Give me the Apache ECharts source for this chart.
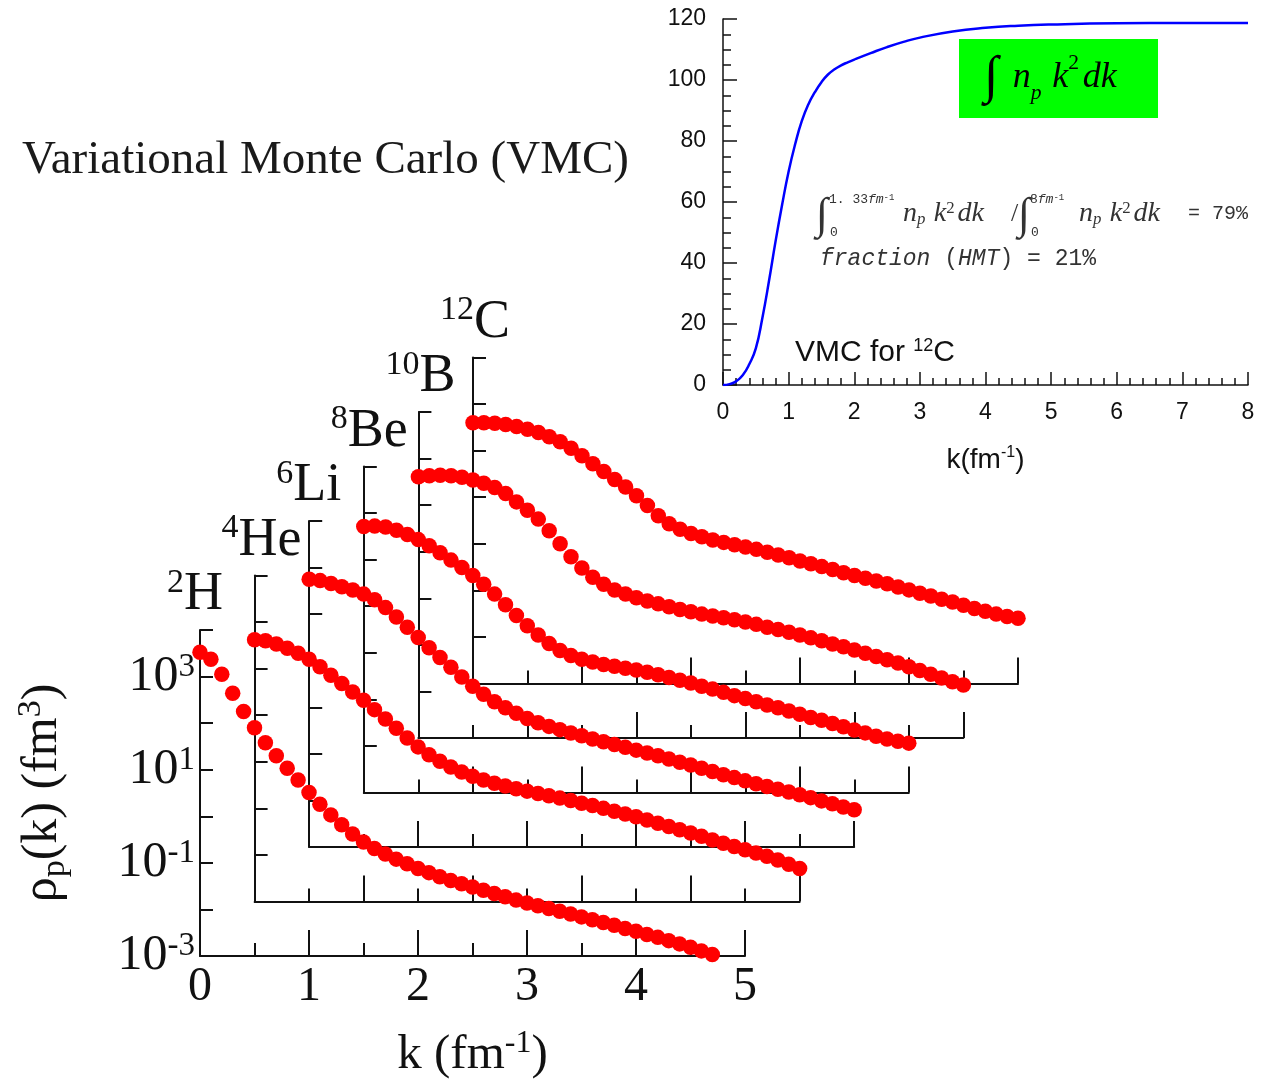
<!DOCTYPE html>
<html>
<head>
<meta charset="utf-8">
<script src="https://cdn.jsdelivr.net/npm/echarts@6/dist/echarts.min.js"></script>
<style>
  html, body { margin: 0; padding: 0; background: #fff; }
  #chart { width: 1269px; height: 1081px; }
</style>
</head>
<body>
<div id="chart"></div>
<script>
// Momentum grid (fm^-1) shared by all VMC proton momentum distributions
const kValues = [0, 0.1, 0.2, 0.3, 0.4, 0.5, 0.6, 0.7, 0.8, 0.9,
  1.0, 1.1, 1.2, 1.3, 1.4, 1.5, 1.6, 1.7, 1.8, 1.9,
  2.0, 2.1, 2.2, 2.3, 2.4, 2.5, 2.6, 2.7, 2.8, 2.9,
  3.0, 3.1, 3.2, 3.3, 3.4, 3.5, 3.6, 3.7, 3.8, 3.9,
  4.0, 4.1, 4.2, 4.3, 4.4, 4.5, 4.6, 4.7, 4.8, 4.9, 5.0];

// log10 of rho_p(k) in fm^3, one array per nucleus
const logRhoH2 = [3.52, 3.37, 3.05, 2.64, 2.25, 1.90, 1.58, 1.30, 1.03, 0.78,
  0.51, 0.26, 0.03, -0.18, -0.38, -0.55, -0.69, -0.81, -0.92, -1.02,
  -1.12, -1.21, -1.30, -1.38, -1.45, -1.52, -1.59, -1.66, -1.73, -1.80,
  -1.86, -1.92, -1.98, -2.04, -2.10, -2.16, -2.22, -2.28, -2.34, -2.41,
  -2.47, -2.54, -2.60, -2.67, -2.74, -2.81, -2.89, -2.97];
const logRhoHe4 = [2.62, 2.60, 2.53, 2.44, 2.33, 2.20, 2.04, 1.86, 1.68, 1.50,
  1.32, 1.12, 0.92, 0.72, 0.51, 0.32, 0.15, 0.01, -0.11, -0.22,
  -0.31, -0.39, -0.46, -0.52, -0.58, -0.63, -0.68, -0.73, -0.78, -0.83,
  -0.89, -0.94, -1.00, -1.06, -1.12, -1.18, -1.25, -1.32, -1.39, -1.46,
  -1.53, -1.60, -1.68, -1.75, -1.82, -1.89, -1.96, -2.03, -2.11, -2.20, -2.29];
const logRhoLi6 = [2.75, 2.72, 2.66, 2.59, 2.52, 2.43, 2.31, 2.14, 1.94, 1.72,
  1.50, 1.28, 1.07, 0.86, 0.65, 0.45, 0.28, 0.12, -0.01, -0.13,
  -0.24, -0.33, -0.41, -0.48, -0.55, -0.61, -0.68, -0.74, -0.80, -0.86,
  -0.92, -0.98, -1.04, -1.11, -1.18, -1.24, -1.31, -1.38, -1.45, -1.51,
  -1.58, -1.64, -1.70, -1.76, -1.82, -1.88, -1.94, -2.01, -2.07, -2.14, -2.20];
const logRhoBe8 = [2.71, 2.72, 2.70, 2.63, 2.54, 2.43, 2.30, 2.15, 1.99, 1.83,
  1.66, 1.47, 1.26, 1.03, 0.80, 0.58, 0.38, 0.20, 0.05, -0.06,
  -0.14, -0.20, -0.25, -0.29, -0.33, -0.37, -0.42, -0.47, -0.53, -0.59,
  -0.65, -0.72, -0.78, -0.85, -0.92, -0.98, -1.05, -1.12, -1.18, -1.25,
  -1.32, -1.39, -1.45, -1.52, -1.59, -1.66, -1.72, -1.79, -1.85, -1.90, -1.94];
const logRhoB10 = [2.61, 2.63, 2.64, 2.63, 2.60, 2.54, 2.47, 2.38, 2.25, 2.07,
  1.89, 1.70, 1.45, 1.17, 0.89, 0.65, 0.45, 0.30, 0.18, 0.09,
  0.01, -0.06, -0.12, -0.18, -0.24, -0.29, -0.34, -0.38, -0.42, -0.46,
  -0.51, -0.56, -0.62, -0.67, -0.73, -0.79, -0.85, -0.91, -0.98, -1.04,
  -1.11, -1.18, -1.25, -1.32, -1.39, -1.47, -1.55, -1.63, -1.71, -1.79, -1.86];
const logRhoC12 = [2.60, 2.60, 2.59, 2.56, 2.52, 2.46, 2.39, 2.30, 2.19, 2.05,
  1.89, 1.72, 1.55, 1.38, 1.22, 1.03, 0.82, 0.60, 0.43, 0.31,
  0.22, 0.15, 0.08, 0.03, -0.02, -0.07, -0.12, -0.18, -0.24, -0.30,
  -0.37, -0.43, -0.49, -0.55, -0.62, -0.68, -0.74, -0.80, -0.86, -0.93,
  -0.99, -1.06, -1.12, -1.19, -1.25, -1.32, -1.39, -1.45, -1.51, -1.56, -1.60];

const massNumbers = ['2', '4', '6', '8', '10', '12'];
const elementSymbols = ['H', 'He', 'Li', 'Be', 'B', 'C'];
const distributions = [logRhoH2, logRhoHe4, logRhoLi6, logRhoBe8, logRhoB10, logRhoC12];

// Cumulative integral of n_p k^2 dk for 12C (inset)
const cumK = [0, 0.1, 0.2, 0.3, 0.4, 0.5, 0.6, 0.7, 0.8, 0.9, 1.0, 1.1, 1.2, 1.3, 1.4,
  1.5, 1.6, 1.7, 1.8, 1.9, 2.0, 2.25, 2.5, 2.75, 3.0, 3.5, 4.0, 4.5, 5.0, 6.0, 7.0, 8.0];
const cumIntegral = [0, 0.3, 1.2, 3.2, 6.8, 12, 22, 34, 47, 59, 70, 79, 86.5, 92, 96,
  99.3, 101.8, 103.5, 104.8, 105.8, 106.7, 108.8, 110.8, 112.5, 113.9, 115.9, 117.1,
  117.8, 118.2, 118.6, 118.7, 118.7];

const SERIF = '"Liberation Serif", "Times New Roman", serif';
const SANS = '"Liberation Sans", Arial, sans-serif';
const MONO = '"Liberation Mono", "Courier New", monospace';
const INK = '#111';

// Staggered panel layout
const P = { left: 200, top: 630, dx: 54.6, dy: 54.5, width: 545, height: 326 };

const grids = [], xAxes = [], yAxes = [], series = [], graphics = [];

distributions.forEach((arr, i) => {
  const front = i === 0;
  const left = P.left + P.dx * i;
  const top = P.top - P.dy * i;
  grids.push({ left: left, top: top, width: P.width, height: P.height });
  xAxes.push({
    type: 'value', gridIndex: i, min: 0, max: 5, interval: 1,
    axisLine: { show: true, onZero: false, lineStyle: { color: INK, width: 2 } },
    axisTick: { show: true, inside: true, length: 26, lineStyle: { color: INK, width: 2 } },
    minorTick: { show: true, splitNumber: 2, length: 13, lineStyle: { color: INK, width: 2 } },
    splitLine: { show: false },
    axisLabel: { show: front, margin: 7, fontFamily: SERIF, fontSize: 48, color: INK },
    name: front ? '{b|k (fm}{s|-1}{b|)}' : '',
    nameLocation: 'middle', nameGap: 72,
    nameTextStyle: {
      rich: {
        b: { fontFamily: SERIF, fontSize: 49, color: INK, lineHeight: 54 },
        s: { fontFamily: SERIF, fontSize: 32, color: INK, verticalAlign: 'top', lineHeight: 32 }
      }
    }
  });
  yAxes.push({
    type: 'value', gridIndex: i, min: -3, max: 4, interval: 1,
    axisLine: { show: true, onZero: false, lineStyle: { color: INK, width: 2 } },
    axisTick: { show: true, inside: true, length: 13, lineStyle: { color: INK, width: 2 } },
    splitLine: { show: false },
    axisLabel: {
      show: front, margin: 5,
      formatter: v => (v % 2 !== 0 && v < 4) ? '{b|10}{s|' + v + '}' : '',
      rich: {
        b: { fontFamily: SERIF, fontSize: 50, color: INK, lineHeight: 52 },
        s: { fontFamily: SERIF, fontSize: 33, color: INK, verticalAlign: 'top', lineHeight: 30 }
      }
    },
    name: front ? '{b|ρ}{sub|p}{b|(k) (fm}{sup|3}{b|)}' : '',
    nameLocation: 'middle', nameRotate: 90, nameGap: 128,
    nameTextStyle: {
      rich: {
        b: { fontFamily: SERIF, fontSize: 50, color: INK, lineHeight: 58 },
        sub: { fontFamily: SERIF, fontSize: 34, color: INK, verticalAlign: 'bottom', lineHeight: 34 },
        sup: { fontFamily: SERIF, fontSize: 34, color: INK, verticalAlign: 'top', lineHeight: 32 }
      }
    }
  });
  series.push({
    type: 'scatter', xAxisIndex: i, yAxisIndex: i, clip: false,
    symbol: 'circle', symbolSize: 15.5,
    itemStyle: { color: '#ff0000', opacity: 1 },
    data: arr.map((v, j) => [kValues[j], v])
  });
  // nucleus label above the panel's left axis
  graphics.push({
    type: 'text', x: left - 33, y: top - 6,
    style: {
      text: '{m|' + massNumbers[i] + '}{s|' + elementSymbols[i] + '}',
      align: 'left', verticalAlign: 'bottom',
      rich: {
        m: { fontFamily: SERIF, fontSize: 34, fill: INK, verticalAlign: 'top', lineHeight: 34 },
        s: { fontFamily: SERIF, fontSize: 54, fill: INK, lineHeight: 58 }
      }
    }
  });
});

// Inset: cumulative integral for 12C
const inset = grids.length;
grids.push({ left: 723, top: 19, width: 525, height: 366 });
xAxes.push({
  type: 'value', gridIndex: inset, min: 0, max: 8, interval: 1,
  axisLine: { show: true, onZero: false, lineStyle: { color: INK, width: 1.5 } },
  axisTick: { show: true, inside: true, length: 13, lineStyle: { color: INK, width: 1.5 } },
  minorTick: { show: true, splitNumber: 5, length: 7, lineStyle: { color: INK, width: 1.5 } },
  splitLine: { show: false },
  axisLabel: { margin: 16, fontFamily: SANS, fontSize: 23, color: INK },
  name: '{b|k(fm}{s|-1}{b|)}', nameLocation: 'middle', nameGap: 60,
  nameTextStyle: {
    rich: {
      b: { fontFamily: SANS, fontSize: 28, color: INK, lineHeight: 30 },
      s: { fontFamily: SANS, fontSize: 16, color: INK, verticalAlign: 'top', lineHeight: 16 }
    }
  }
});
yAxes.push({
  type: 'value', gridIndex: inset, min: 0, max: 120, interval: 20,
  axisLine: { show: true, onZero: false, lineStyle: { color: INK, width: 1.5 } },
  axisTick: { show: true, inside: true, length: 14, lineStyle: { color: INK, width: 1.5 } },
  minorTick: { show: true, splitNumber: 4, length: 8, lineStyle: { color: INK, width: 1.5 } },
  splitLine: { show: false },
  axisLabel: { margin: 17, fontFamily: SANS, fontSize: 23, color: INK }
});
series.push({
  type: 'line', xAxisIndex: inset, yAxisIndex: inset,
  smooth: true, symbol: 'none',
  lineStyle: { color: '#0000ff', width: 2.5 },
  data: cumK.map((k, j) => [k, cumIntegral[j]])
});

// Title
graphics.push({
  type: 'text', x: 22, y: 161,
  style: { text: 'Variational Monte Carlo (VMC)', fontFamily: SERIF, fontSize: 47,
    fill: '#1a1a1a', align: 'left', verticalAlign: 'middle' }
});

// Green box with the integral
graphics.push({ type: 'rect', shape: { x: 959, y: 39, width: 199, height: 79 }, style: { fill: '#00ff00' } });
const mathRich = (size, color) => ({
  int: { fontFamily: SERIF, fontSize: size * 1.45, fill: color, padding: [0, size * 0.4, 0, 0] },
  v: { fontFamily: SERIF, fontStyle: 'italic', fontSize: size, fill: color },
  sub: { fontFamily: SERIF, fontStyle: 'italic', fontSize: size * 0.6, fill: color, verticalAlign: 'bottom', lineHeight: size * 0.8, padding: [0, size * 0.3, 0, 0] },
  sup: { fontFamily: SERIF, fontSize: size * 0.6, fill: color, verticalAlign: 'top', lineHeight: size * 0.8, padding: [0, size * 0.1, 0, 0] }
});
graphics.push({
  type: 'text', x: 984, y: 78,
  style: { text: '{int|∫}{v|n}{sub|p}{v|k}{sup|2}{v|dk}', align: 'left', verticalAlign: 'middle',
    rich: mathRich(36, '#000') }
});

// Ratio of integrals and high-momentum fraction
const FORM = '#333';
const limRich = {
  a: { fontFamily: MONO, fontSize: 13, fill: FORM },
  i: { fontFamily: MONO, fontStyle: 'italic', fontSize: 13, fill: FORM },
  u: { fontFamily: MONO, fontSize: 9, fill: FORM, verticalAlign: 'top', lineHeight: 10 }
};
[
  { x: 816, y: 216, text: '{s|∫}', rich: { s: { fontFamily: SERIF, fontSize: 44, fill: FORM } } },
  { x: 829, y: 200, text: '{a|1. 33}{i|fm}{u|-1}', rich: limRich },
  { x: 830, y: 233, text: '{a|0}', rich: limRich },
  { x: 903, y: 214, text: '{v|n}{sub|p}{v|k}{sup|2}{v|dk}', rich: mathRich(28, FORM) },
  { x: 1011, y: 214, text: '{s|/}', rich: { s: { fontFamily: SERIF, fontSize: 26, fill: FORM } } },
  { x: 1018, y: 216, text: '{s|∫}', rich: { s: { fontFamily: SERIF, fontSize: 44, fill: FORM } } },
  { x: 1030, y: 200, text: '{a|8}{i|fm}{u|-1}', rich: limRich },
  { x: 1031, y: 233, text: '{a|0}', rich: limRich },
  { x: 1079, y: 214, text: '{v|n}{sub|p}{v|k}{sup|2}{v|dk}', rich: mathRich(28, FORM) },
  { x: 1188, y: 214, text: '{s|= 79%}', rich: { s: { fontFamily: MONO, fontSize: 20, fill: FORM } } },
  { x: 820, y: 259, text: '{i|fraction}{u| (}{i|HMT}{u|) = 21%}', rich: {
      i: { fontFamily: MONO, fontStyle: 'italic', fontSize: 23, fill: FORM },
      u: { fontFamily: MONO, fontSize: 23, fill: FORM } } }
].forEach(t => graphics.push({
  type: 'text', x: t.x, y: t.y,
  style: { text: t.text, rich: t.rich, align: 'left', verticalAlign: 'middle' }
}));

// Inset caption
graphics.push({
  type: 'text', x: 795, y: 353,
  style: { text: '{b|VMC for }{s|12}{b|C}', align: 'left', verticalAlign: 'middle',
    rich: {
      b: { fontFamily: SANS, fontSize: 30, fill: INK, lineHeight: 32 },
      s: { fontFamily: SANS, fontSize: 18, fill: INK, verticalAlign: 'top', lineHeight: 18 }
    } }
});

const chart = echarts.init(document.getElementById('chart'));
chart.setOption({
  animation: false,
  backgroundColor: '#fff',
  grid: grids,
  xAxis: xAxes,
  yAxis: yAxes,
  series: series,
  graphic: { elements: graphics }
});
</script>
</body>
</html>
